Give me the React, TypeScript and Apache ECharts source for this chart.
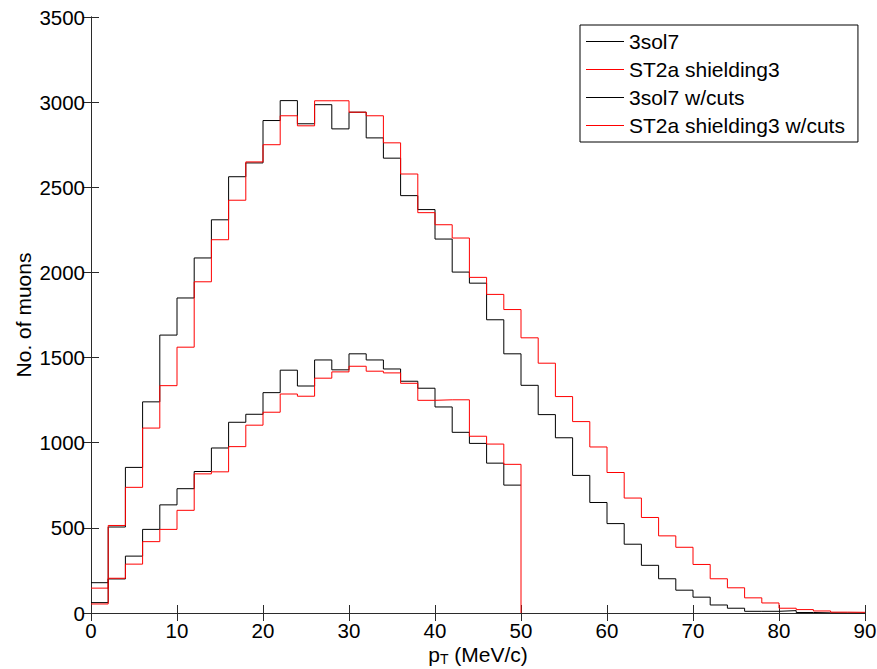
import React, { useEffect, useRef } from "react";
import * as echarts from "echarts";

// Left edges of the 2 MeV/c bins
const binLeftEdges = [
  0, 2, 4, 6, 8, 10, 12, 14, 16, 18, 20, 22, 24, 26, 28, 30, 32, 34, 36, 38, 40, 42, 44,
  46, 48, 50, 52, 54, 56, 58, 60, 62, 64, 66, 68, 70, 72, 74, 76, 78, 80, 82, 84, 86, 88,
];
const xEnd = 90;
const cutsEnd = 50;

const sol7 = [
  178, 505, 855, 1240, 1632, 1850, 2085, 2309, 2562, 2643, 2892, 3009, 2873, 2985, 2843,
  2941, 2790, 2671, 2451, 2369, 2196, 2002, 1937, 1722, 1522, 1337, 1165, 1029, 808, 649,
  525, 404, 280, 201, 134, 93, 47, 28, 10, 10, 14, 3, 1, 0, 0,
];
const st2a = [
  146, 514, 738, 1086, 1335, 1561, 1945, 2192, 2424, 2649, 2750, 2920, 2861, 3008, 3008,
  2941, 2920, 2761, 2578, 2351, 2280, 2202, 1971, 1871, 1782, 1616, 1467, 1271, 1124, 975,
  825, 675, 561, 453, 386, 285, 201, 148, 89, 59, 28, 20, 12, 5, 4,
];
const sol7Cuts = [
  61, 200, 334, 491, 635, 730, 831, 969, 1120, 1167, 1294, 1426, 1333, 1486, 1428, 1522,
  1486, 1433, 1361, 1320, 1210, 1061, 996, 880, 751,
];
const st2aCuts = [
  53, 204, 287, 419, 491, 603, 817, 829, 977, 1103, 1179, 1286, 1273, 1379, 1416, 1449,
  1420, 1410, 1349, 1249, 1252, 1252, 1038, 992, 873,
];

const seriesNames = ["3sol7", "ST2a shielding3", "3sol7 w/cuts", "ST2a shielding3 w/cuts"];
const xTicks = { min: 0, max: 90, interval: 10 };
const yTicks = { min: 0, max: 3500, interval: 500 };

const FONT = "'Liberation Sans', Arial, sans-serif";
const AXIS_COLOR = "#2b2b2b";

function toSteps(vals: number[], endX: number, endY: number) {
  const pts: number[][] = vals.map((v, i) => [binLeftEdges[i], v]);
  pts.push([endX, endY]);
  return pts;
}

export default function App() {
  const ref = useRef<HTMLDivElement>(null);
  useEffect(() => {
    if (!ref.current) return;
    const chart = echarts.init(ref.current, null, { renderer: "svg" });
    const axisCommon = {
      type: "value" as const,
      axisLine: { show: true, lineStyle: { color: AXIS_COLOR, width: 1 } },
      axisTick: { show: true, inside: true, length: 8, lineStyle: { color: AXIS_COLOR, width: 1 } },
      splitLine: { show: false },
    };
    const labelStyle = {
      fontSize: 20.5,
      color: "#000",
      fontFamily: FONT,
      formatter: (v: number) => String(v),
    };
    const mk = (name: string, data: number[][], color: string) => ({
      name,
      type: "line" as const,
      step: "end" as const,
      data,
      symbol: "none",
      showSymbol: false,
      lineStyle: { color, width: 1 },
      itemStyle: { color },
      xAxisIndex: 0,
      yAxisIndex: 0,
    });
    chart.setOption({
      animation: false,
      backgroundColor: "#fff",
      grid: {
        left: 91,
        right: 12,
        top: 17,
        bottom: 56,
        containLabel: false,
        outerBoundsMode: "none",
      },
      legend: {
        orient: "vertical",
        left: 580,
        top: 25,
        padding: [6, 13, 6, 6],
        itemGap: 7,
        itemWidth: 38,
        itemHeight: 1,
        icon: "rect",
        backgroundColor: "#fff",
        borderColor: "#000",
        borderWidth: 1,
        borderRadius: 0,
        textStyle: { fontSize: 21, color: "#000", fontFamily: FONT, lineHeight: 21 },
        data: seriesNames.map((n) => ({ name: n })),
      },
      xAxis: [
        {
          ...axisCommon,
          ...xTicks,
          position: "bottom",
          axisLabel: { ...labelStyle, margin: 7 },
          name: "{a|p}{s|T}{a| (MeV/c)}",
          nameLocation: "middle",
          nameGap: 29,
          nameMoveOverlap: false,
          nameTextStyle: {
            fontFamily: FONT,
            color: "#000",
            rich: {
              a: { fontSize: 21, fontFamily: FONT, color: "#000" },
              s: { fontSize: 14, fontFamily: FONT, color: "#000", verticalAlign: "bottom", padding: [10, 0, 0, 0] },
            },
          },
        },
        {
          ...axisCommon,
          ...xTicks,
          position: "top",
          axisLabel: { show: false },
        },
      ],
      yAxis: [
        {
          ...axisCommon,
          ...yTicks,
          position: "left",
          axisLabel: { ...labelStyle, margin: 6 },
          name: "No. of muons",
          nameLocation: "middle",
          nameGap: 57,
          nameMoveOverlap: false,
          nameTextStyle: { fontSize: 21, color: "#000", fontFamily: FONT },
        },
        {
          ...axisCommon,
          ...yTicks,
          position: "right",
          axisLabel: { show: false },
        },
      ],
      series: [
        mk(seriesNames[0], toSteps(sol7, xEnd, sol7[sol7.length - 1]), "#000000"),
        mk(seriesNames[1], toSteps(st2a, xEnd, st2a[st2a.length - 1]), "#ff0000"),
        mk(seriesNames[2], toSteps(sol7Cuts, cutsEnd, sol7Cuts[sol7Cuts.length - 1]), "#000000"),
        mk(seriesNames[3], toSteps(st2aCuts, cutsEnd, 0), "#ff0000"),
      ],
    });
    return () => chart.dispose();
  }, []);
  return (
    <div
      ref={ref}
      style={{ position: "fixed", left: 0, top: 0, width: 877, height: 669, background: "#fff" }}
    />
  );
}
